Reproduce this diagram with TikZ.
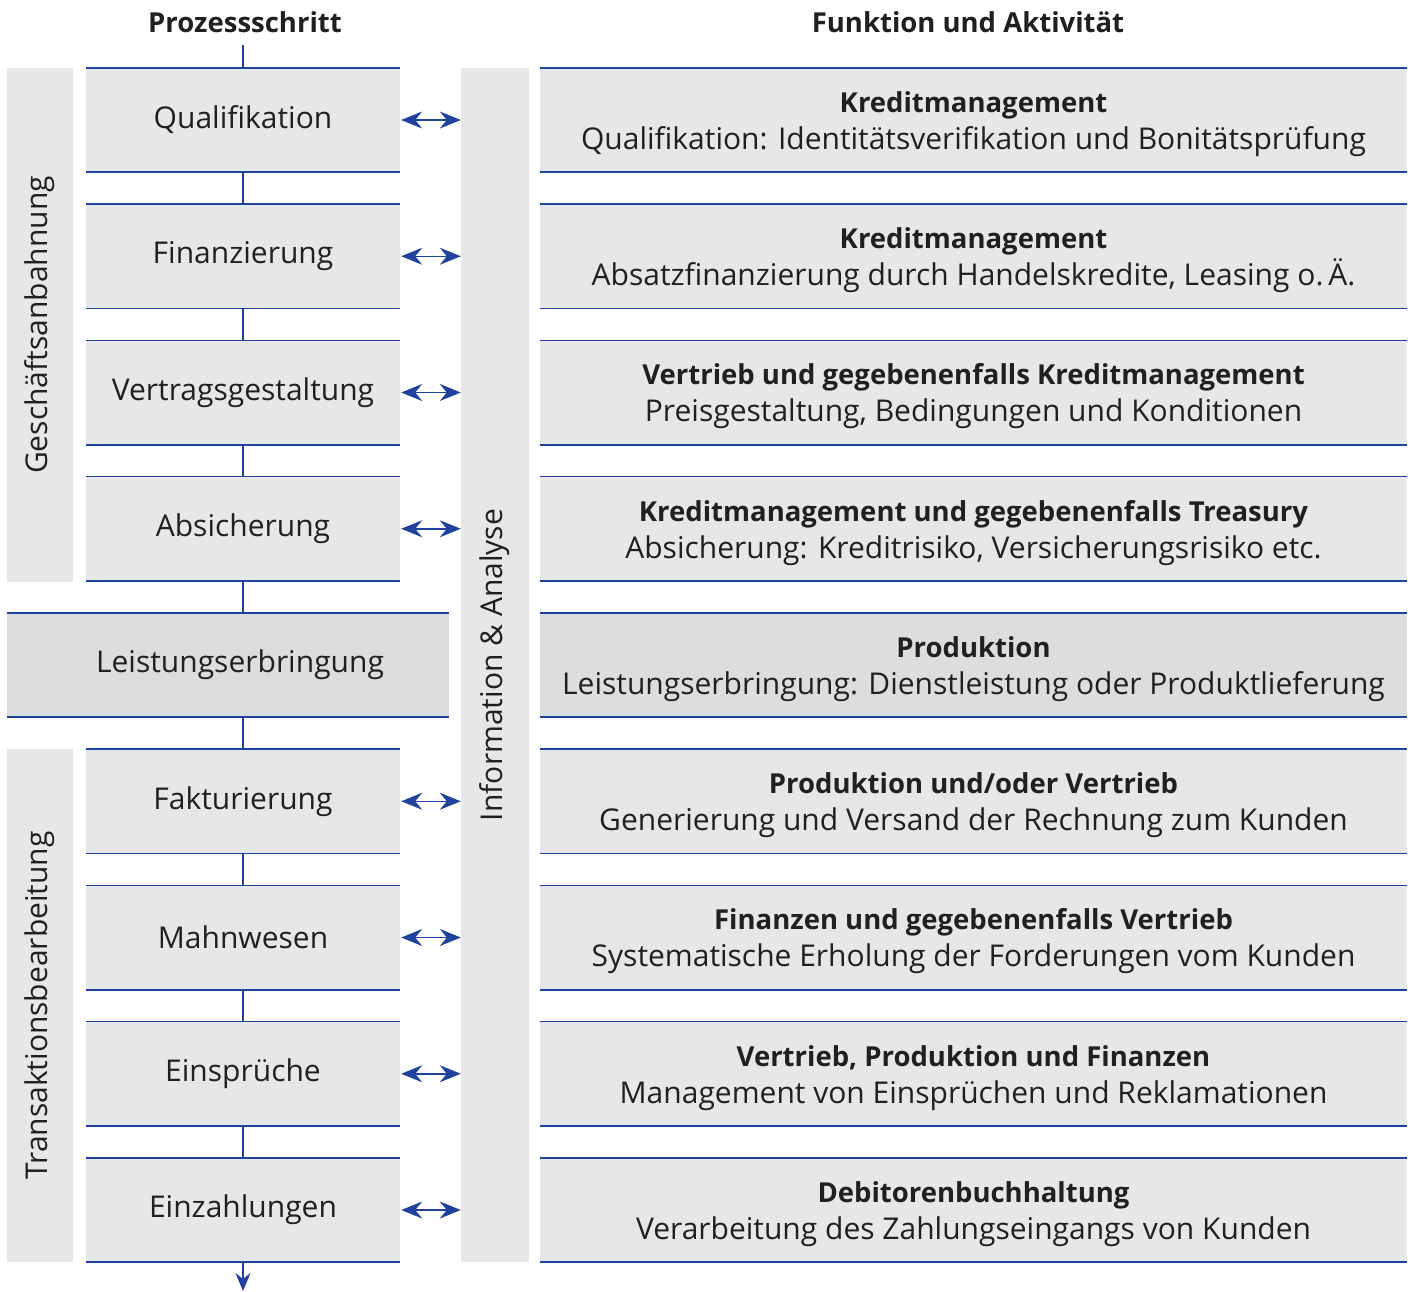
\documentclass[tikz,border=0pt]{standalone}
\usepackage{fontspec}
\setmainfont{Open Sans}
\usetikzlibrary{arrows.meta}
\definecolor{lineblue}{RGB}{32,66,156}
\definecolor{boxgray}{RGB}{230,231,233}
\definecolor{boxdark}{RGB}{220,221,223}
\definecolor{txt}{RGB}{35,31,32}
\newcommand{\bhead}[1]{{\fontsize{27.5}{37}\selectfont\bfseries #1}}
\begin{document}
\begin{tikzpicture}[x=1pt,y=-1pt,
  every node/.style={text=txt,font=\fontsize{30}{37}\selectfont,inner sep=0pt},
  bl/.style={draw=lineblue,line width=1.6pt},
  lbox/.style={fill=boxgray,minimum width=314pt,minimum height=104pt},
  rbox/.style={fill=boxgray,minimum width=867pt,minimum height=104pt},
  rtext/.style={align=center,yshift=-4pt},
  sidebar/.style={fill=boxgray,minimum width=66pt},
  hdr/.style={font=\fontsize{27.5}{37}\selectfont\bfseries},
  biarrow/.style={draw=lineblue,line width=1.5pt,{Stealth[length=21pt,width=17pt,inset=7pt]}-{Stealth[length=21pt,width=17pt,inset=7pt]}}
]
\useasboundingbox (0,0) rectangle (1410,1291);

% headers
\node[hdr] (h1) at (245,22) {Prozessschritt};
\node[hdr] (h2) at (968,22) {Funktion und Aktivität};

% side bars
\node[sidebar,minimum height=514pt] (g1) at (40,325) {};
\node[rotate=90] (g1t) at (g1.center) {Geschäftsanbahnung};
\node[sidebar,minimum height=513pt] (g2) at (40,1005.5) {};
\node[rotate=90] (g2t) at (g2.center) {Transaktionsbearbeitung};

% information bar
\node[fill=boxgray,minimum width=68pt,minimum height=1194pt] (info) at (495,665) {};
\node[rotate=90] (infot) at (info.center) {Information \& Analyse};

% process steps
\node[lbox] (p1) at (243,120) {Qualifikation};
\node[lbox] (p2) at (243,256.25) {Finanzierung};
\node[lbox] (p3) at (243,392.5) {Vertragsgestaltung};
\node[lbox] (p4) at (243,528.75) {Absicherung};
\node[fill=boxdark,minimum width=442pt,minimum height=104pt] (p5) at (228,665) {};
\node (p5t) at (240,665) {Leistungserbringung};
\node[lbox] (p6) at (243,801.25) {Fakturierung};
\node[lbox] (p7) at (243,937.5) {Mahnwesen};
\node[lbox] (p8) at (243,1073.75) {Einsprüche};
\node[lbox] (p9) at (243,1210) {Einzahlungen};

% function boxes
\node[rbox] (r1) at (973.5,120) {};
\node[rbox] (r2) at (973.5,256.25) {};
\node[rbox] (r3) at (973.5,392.5) {};
\node[rbox] (r4) at (973.5,528.75) {};
\node[rbox,fill=boxdark] (r5) at (973.5,665) {};
\node[rbox] (r6) at (973.5,801.25) {};
\node[rbox] (r7) at (973.5,937.5) {};
\node[rbox] (r8) at (973.5,1073.75) {};
\node[rbox] (r9) at (973.5,1210) {};

\node[rtext] (t1) at (r1.center) {\bhead{Kreditmanagement}\\Qualifikation: Identitätsverifikation und Bonitätsprüfung};
\node[rtext] (t2) at (r2.center) {\bhead{Kreditmanagement}\\Absatzfinanzierung durch Handelskredite, Leasing o.\,Ä.};
\node[rtext] (t3) at (r3.center) {\bhead{Vertrieb und gegebenenfalls Kreditmanagement}\\Preisgestaltung, Bedingungen und Konditionen};
\node[rtext] (t4) at (r4.center) {\bhead{Kreditmanagement und gegebenenfalls Treasury}\\Absicherung: Kreditrisiko, Versicherungsrisiko etc.};
\node[rtext] (t5) at (r5.center) {\bhead{Produktion}\\Leistungserbringung: Dienstleistung oder Produktlieferung};
\node[rtext] (t6) at (r6.center) {\bhead{Produktion und/oder Vertrieb}\\Generierung und Versand der Rechnung zum Kunden};
\node[rtext] (t7) at (r7.center) {\bhead{Finanzen und gegebenenfalls Vertrieb}\\Systematische Erholung der Forderungen vom Kunden};
\node[rtext] (t8) at (r8.center) {\bhead{Vertrieb, Produktion und Finanzen}\\Management von Einsprüchen und Reklamationen};
\node[rtext] (t9) at (r9.center) {\bhead{Debitorenbuchhaltung}\\Verarbeitung des Zahlungseingangs von Kunden};

% top and bottom blue rules
\foreach \n in {p1,p2,p3,p4,p5,p6,p7,p8,p9,r1,r2,r3,r4,r5,r6,r7,r8,r9}{
  \draw[bl] (\n.north west) -- (\n.north east);
  \draw[bl] (\n.south west) -- (\n.south east);
}

% vertical process connectors
\coordinate (top) at (243,45);
\coordinate (bot) at (243,1291);
\draw[bl] (top) -- (p1.north);
\draw[bl] (p1.south) -- (p2.north);
\draw[bl] (p2.south) -- (p3.north);
\draw[bl] (p3.south) -- (p4.north);
\draw[bl] (p4.south) -- (p4.south |- p5.north);
\draw[bl] (p6.north |- p5.south) -- (p6.north);
\draw[bl] (p6.south) -- (p7.north);
\draw[bl] (p7.south) -- (p8.north);
\draw[bl] (p8.south) -- (p9.north);
\draw[bl,-{Stealth[length=18pt,width=15pt,inset=6pt]}] (p9.south) -- (bot);

% double arrows to information bar
\foreach \n in {p1,p2,p3,p4,p6,p7,p8,p9}{
  \draw[biarrow] ([xshift=1pt]\n.east) -- (\n.east -| info.west);
}
\end{tikzpicture}
\end{document}
